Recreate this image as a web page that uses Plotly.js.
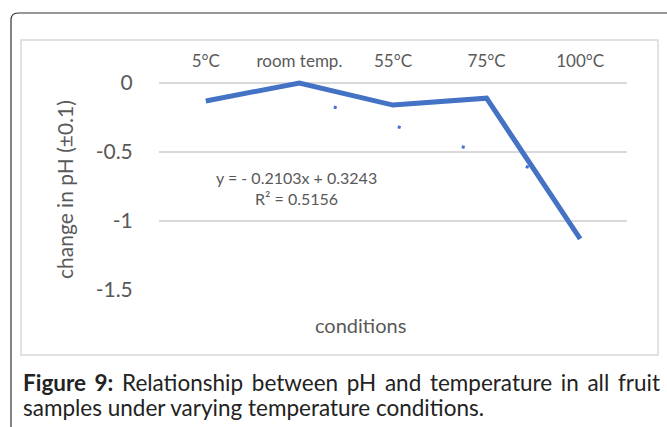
<!DOCTYPE html>
<html>
<head>
<meta charset="utf-8">
<script src="https://cdn.plot.ly/plotly-3.0.1.min.js"></script>
<style>
  html, body { margin: 0; padding: 0; background: #fff; }
  #chart { width: 667px; height: 427px; }
</style>
</head>
<body>
<div id="chart"></div>
<script>
// ---- data ----
const categories = ["5°C", "room temp.", "55°C", "75°C", "100°C"];
const phChange = [-0.13, 0.0, -0.16, -0.11, -1.13];
const trendSlope = -0.2103;
const trendIntercept = 0.3243;
const yTickVals = [0, -0.5, -1, -1.5];
const yTickText = ["0", "-0.5", "-1", "-1.5"];

const W = 667, H = 427;
const M = {l: 159, r: 40, t: 79, b: 137};
const PW = W - M.l - M.r, PH = H - M.t - M.b;
const px = x => (x - M.l) / PW;
const py = y => (H - M.b - y) / PH;

const xIdx = categories.map((c, i) => i + 1);
const trendY = xIdx.map(x => trendSlope * x + trendIntercept);

const FONT = "Lato, 'Open Sans', sans-serif";
const GREY = "#595959";
const BLUE = "#4472C4";

const traces = [
  {
    x: xIdx, y: trendY, type: "scatter", mode: "lines",
    line: {color: BLUE, width: 3, dash: "3px,64px"},
    hoverinfo: "skip"
  },
  {
    x: xIdx, y: phChange, type: "scatter", mode: "lines",
    line: {color: BLUE, width: 5},
  }
];

const outerPath = `M ${px(11)},${py(430)} L ${px(11)},${py(20)} Q ${px(11)},${py(13)} ${px(18)},${py(13)} L ${px(670)},${py(13)}`;

const layout = {
  width: W, height: H,
  margin: M,
  paper_bgcolor: "#fff", plot_bgcolor: "#fff",
  showlegend: false,
  font: {family: FONT, color: GREY},
  xaxis: {
    side: "top", range: [0.5, 5.5],
    tickvals: xIdx, ticktext: categories,
    tickfont: {size: 17, color: GREY, family: FONT},
    ticks: "outside", ticklen: 4, tickcolor: "rgba(0,0,0,0)",
    showgrid: false, zeroline: false, showline: false, fixedrange: true
  },
  yaxis: {
    range: [-1.5, 0.029],
    tickvals: yTickVals, ticktext: yTickText,
    tickfont: {size: 21, color: GREY, family: FONT},
    ticks: "outside", ticklen: 21, tickcolor: "rgba(0,0,0,0)",
    showgrid: true, gridcolor: "#D9D9D9", gridwidth: 1.5,
    zeroline: false, showline: false, fixedrange: true
  },
  shapes: [
    {type: "rect", xref: "paper", yref: "paper",
     x0: px(21), x1: px(658), y0: py(355), y1: py(40),
     line: {color: "#D9D9D9", width: 1.5}, layer: "below"},
    {type: "path", xref: "paper", yref: "paper", path: outerPath,
     line: {color: "#333", width: 1.2}}
  ],
  annotations: [
    {xref: "paper", yref: "paper", x: px(64), y: py(190), textangle: -90,
     text: "change in pH (±0.1)", showarrow: false,
     font: {size: 21, color: GREY, family: FONT}, xanchor: "center", yanchor: "middle"},
    {xref: "paper", yref: "paper", x: px(360), y: py(325),
     text: "conditions", showarrow: false,
     font: {size: 20, color: GREY, family: FONT}, xanchor: "center", yanchor: "middle"},
    {xref: "paper", yref: "paper", x: px(296), y: py(188),
     text: "y = - 0.2103x + 0.3243<br>R² = 0.5156", showarrow: false, align: "center",
     font: {size: 16, color: GREY, family: FONT}, xanchor: "center", yanchor: "middle"},
    {xref: "paper", yref: "paper", x: px(21), y: py(382),
     text: "<b>Figure 9:</b> Relationship between pH and temperature in all fruit",
     showarrow: false, align: "left", font: {size: 22.5, color: "#222", family: FONT},
     xanchor: "left", yanchor: "middle"},
    {xref: "paper", yref: "paper", x: px(21), y: py(407),
     text: "samples under varying temperature conditions.",
     showarrow: false, align: "left", font: {size: 22.5, color: "#222", family: FONT},
     xanchor: "left", yanchor: "middle"}
  ]
};

Plotly.newPlot("chart", traces, layout, {staticPlot: true, displayModeBar: false}).then(gd => {
  // justify the first caption line to the box width
  const t = gd.querySelector('.annotation[data-index="3"] text');
  if (t && t.getComputedTextLength) {
    const natural = t.getComputedTextLength();
    const target = 658 - 21;
    const spaces = 9;
    if (natural < target) t.style.wordSpacing = ((target - natural) / spaces) + "px";
  }
});
</script>
</body>
</html>
